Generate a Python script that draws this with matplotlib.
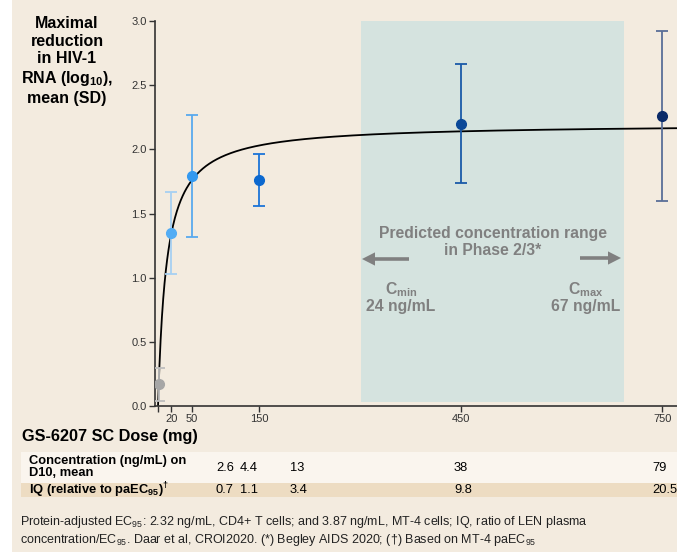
import numpy as np
import matplotlib
matplotlib.use('Agg')
import matplotlib.pyplot as plt
from matplotlib.patches import Rectangle, FancyArrow

plt.rcParams['font.family'] = ['Liberation Sans', 'DejaVu Sans']
plt.rcParams['mathtext.default'] = 'regular'

# dose groups (mg) and mean / SD of max HIV-1 RNA reduction
doses = [1, 20, 50, 150, 450, 750]
mean_red = [0.17, 1.35, 1.79, 1.76, 2.20, 2.26]
sd_red = [0.13, 0.32, 0.475, 0.205, 0.465, 0.66]
point_colors = ['#a6a6a6', '#52acf4', '#3399f0', '#0b68cf', '#0a4898', '#0a2a68']
bar_colors = ['#bdbdbd', '#a6d0f2', '#58a9ee', '#1c74d8', '#1a5aa8', '#5a6e98']

# Emax model fit
emax = 2.2
ec50 = 12.6

xtick_vals = [0, 20, 50, 150, 450, 750]
xtick_labels = ['', '20', '50', '150', '450', '750']
ytick_vals = [0.0, 0.5, 1.0, 1.5, 2.0, 2.5, 3.0]

# predicted concentration range in dose units
range_lo = 302
range_hi = 693

conc_vals = ['2.6', '4.4', '13', '38', '79']
iq_vals = ['0.7', '1.1', '3.4', '9.8', '20.5']
val_px = [216, 240, 290, 454, 659]

W, H = 677, 552
bg = '#f3ebdf'
gray = '#808080'


def fx(px):
    return px / W


def fy(py):
    return 1 - py / H


fig = plt.figure(figsize=(W / 100, H / 100), dpi=100)
fig.patch.set_facecolor(bg)
# white strip at left edge
fig.patches.append(Rectangle((0, 0), fx(12), 1, transform=fig.transFigure,
                             facecolor='white', edgecolor='none', zorder=0))

ax = fig.add_axes([fx(155), fy(406), 1 - fx(155), fy(21) - fy(406)])
ax.set_facecolor('none')
ax.set_xlim(-4.5, 772)
ax.set_ylim(0, 3.0)

ax.axvspan(range_lo, range_hi, ymin=0.01, ymax=1.0, color='#d5e3df', zorder=0, lw=0)

xs = np.linspace(0, 772, 800)
ax.plot(xs, emax * xs / (ec50 + xs), color='black', lw=1.3, zorder=2)

for d, m, s, pc, bc in zip(doses, mean_red, sd_red, point_colors, bar_colors):
    ax.errorbar(d, m, yerr=s, fmt='none', ecolor=bc, elinewidth=1.3,
                capsize=4, capthick=1.3, zorder=3)
    ax.plot(d, m, 'o', color=pc, markersize=7, zorder=4)

ax.spines['top'].set_visible(False)
ax.spines['right'].set_visible(False)
for sp in ['left', 'bottom']:
    ax.spines[sp].set_color('#333333')
    ax.spines[sp].set_linewidth(1.2)
ax.set_xticks(xtick_vals)
ax.set_xticklabels(xtick_labels)
ax.set_yticks(ytick_vals)
ax.set_yticklabels(['%.1f' % v for v in ytick_vals])
ax.tick_params(axis='both', labelsize=8, colors='#333333', length=4, width=1, pad=2)

# annotation inside shaded region
ax_txt = dict(color=gray, fontweight='bold', fontsize=11.3, ha='center', va='center')
fig.text(fx(493), fy(242), 'Predicted concentration range\nin Phase 2/3*',
         linespacing=1.15, **ax_txt)
fig.text(fx(401), fy(297), 'C$_{min}$\n24 ng/mL', linespacing=1.0, **ax_txt)
fig.text(fx(586), fy(297), 'C$_{max}$\n67 ng/mL', linespacing=1.0, **ax_txt)
fig.patches.append(FancyArrow(fx(409), fy(259), fx(362) - fx(409), 0, width=0.0065,
                              head_width=0.024, head_length=fx(13), length_includes_head=True,
                              transform=fig.transFigure, color=gray, lw=0))
fig.patches.append(FancyArrow(fx(580), fy(258), fx(621) - fx(580), 0, width=0.0065,
                              head_width=0.024, head_length=fx(13), length_includes_head=True,
                              transform=fig.transFigure, color=gray, lw=0))

# y label
fig.text(fx(67), fy(61), 'Maximal\nreduction\nin HIV-1\nRNA (log$_{10}$),\nmean (SD)',
         fontsize=11.5, fontweight='bold', ha='center', va='center', linespacing=1.2)

# table below
fig.text(fx(22), fy(437), 'GS-6207 SC Dose (mg)', fontsize=11.7, fontweight='bold',
         ha='left', va='center')
fig.patches.append(Rectangle((fx(21), fy(483)), 1 - fx(21), fy(452) - fy(483),
                             transform=fig.transFigure, facecolor='#faf5ee', edgecolor='none'))
fig.patches.append(Rectangle((fx(21), fy(497)), 1 - fx(21), fy(483) - fy(497),
                             transform=fig.transFigure, facecolor='#eddcc2', edgecolor='none'))
fig.text(fx(29), fy(467), 'Concentration (ng/mL) on\nD10, mean', fontsize=9.3, fontweight='bold',
         ha='left', va='center', linespacing=1.05)
fig.text(fx(29), fy(490), 'IQ (relative to paEC$_{95}$)$^{\u2020}$', fontsize=9.3,
         fontweight='bold', ha='left', va='center')
for v, c, p in zip(conc_vals, iq_vals, val_px):
    fig.text(fx(min(p, 652)), fy(468), v, fontsize=9.3, ha='left', va='center')
    fig.text(fx(min(p, 652)), fy(490), c, fontsize=9.3, ha='left', va='center')

fig.text(fx(20), fy(531),
         'Protein-adjusted EC$_{95}$: 2.32 ng/mL, CD4+ T cells; and 3.87 ng/mL, MT-4 cells; '
         'IQ, ratio of LEN plasma\nconcentration/EC$_{95}$. Daar et al, CROI2020. (*) Begley AIDS 2020; '
         '(\u2020) Based on MT-4 paEC$_{95}$',
         fontsize=9, ha='left', va='center', linespacing=1.15, color='#222222')

fig.savefig('out.png', dpi=100, facecolor=bg)
